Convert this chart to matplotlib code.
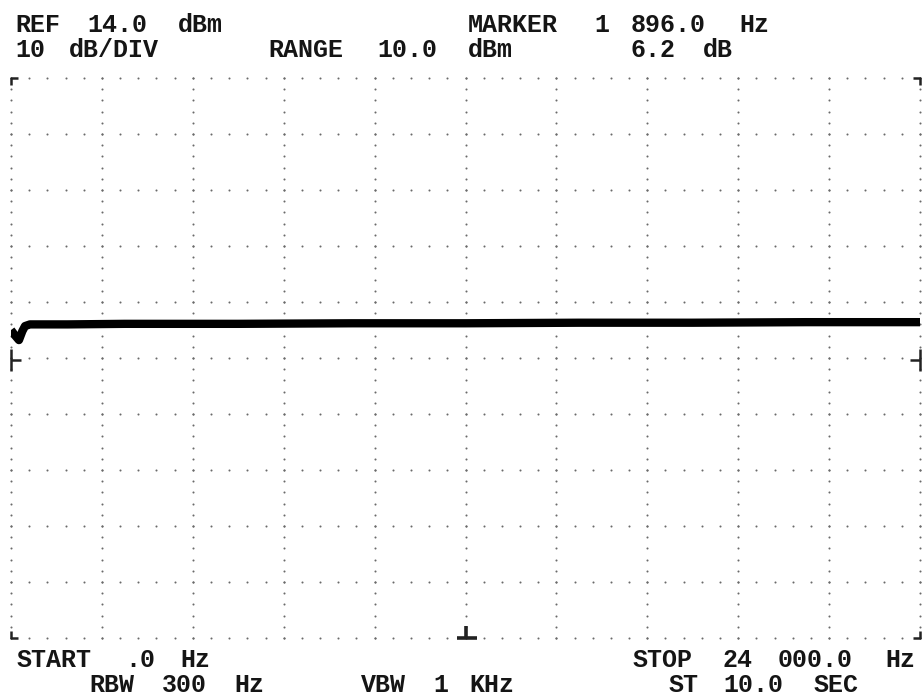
import re
import numpy as np
import matplotlib
matplotlib.use("Agg")
import matplotlib.pyplot as plt

# screen annotation rows (monospace layout of the analyzer display)
header_1 = "REF 14.0 dBm             MARKER 1 896.0 Hz"
header_2 = "10 dB/DIV     RANGE 10.0 dBm      6.2 dB"
footer_1 = "START .0 Hz                       STOP 24 000.0 Hz"
footer_2 = "    RBW 300 Hz     VBW 1 KHz        ST 10.0 SEC"

# display scale
ref_level = 14.0      # dBm at top graticule
db_per_div = 10
n_ydiv = 10
f_start = 0.0
f_stop = 24000.0
n_xdiv = 10

# trace (Hz, dBm)
freq = [0, 110, 210, 300, 370, 500, 1500, 3000, 6000, 9000, 12000, 15000, 18000, 21000, 24000]
level = [-31.0, -32.0, -32.8, -31.2, -30.3, -30.0, -30.0, -29.9, -29.9, -29.8, -29.8, -29.7, -29.7, -29.6, -29.6]

W, H = 922, 697
fig = plt.figure(figsize=(W / 100, H / 100), dpi=100)
fig.patch.set_facecolor("white")

left, right, top, bottom = 11, 920, 78, 638
ax = fig.add_axes([left / W, (H - bottom) / H, (right - left) / W, (bottom - top) / H])
y_bot = ref_level - n_ydiv * db_per_div
ax.set_xlim(f_start, f_stop)
ax.set_ylim(y_bot, ref_level)
ax.axis("off")

# dotted graticule: dots at 1/5 division along each major line
xdiv = (f_stop - f_start) / n_xdiv
x_major = f_start + xdiv * np.arange(n_xdiv + 1)
y_major = y_bot + db_per_div * np.arange(n_ydiv + 1)
x_minor = f_start + xdiv / 5 * np.arange(n_xdiv * 5 + 1)
y_minor = y_bot + db_per_div / 5 * np.arange(n_ydiv * 5 + 1)
dot_kw = dict(s=2.2, c="#6a6a6a", linewidths=0, clip_on=False, zorder=1)
for xv in x_major:
    ax.scatter(np.full_like(y_minor, xv), y_minor, **dot_kw)
for yv in y_major:
    ax.scatter(x_minor, np.full_like(x_minor, yv), **dot_kw)

# corner brackets and edge markers (axes fraction)
ex = 7 / (right - left)
ey = 7 / (bottom - top)
mk = dict(color="#222222", lw=1.8, transform=ax.transAxes, clip_on=False, solid_capstyle="butt")
ax.plot([0, 0, ex], [1 - ey, 1, 1], **mk)
ax.plot([1 - ex, 1, 1], [1, 1, 1 - ey], **mk)
ax.plot([0, 0, ex], [ey, 0, 0], **mk)
ax.plot([1 - ex, 1, 1], [0, 0, ey], **mk)
side = 1 - (360 - top) / (bottom - top)
span = 11 / (bottom - top)
ax.plot([0, 0], [side - span, side + span], **mk)
ax.plot([0, 10 / (right - left)], [side, side], **mk)
ax.plot([1, 1], [side - span, side + span], **mk)
ax.plot([1, 1 - 10 / (right - left)], [side, side], **mk)
mk2 = dict(mk, lw=2.6)
ax.plot([0.5, 0.5], [0, 12 / (bottom - top)], **mk2)
ax.plot([0.5 - 9 / (right - left), 0.5 + 11 / (right - left)], [0, 0], **mk2)

# trace
ax.plot(freq, level, color="black", lw=6, solid_capstyle="butt", solid_joinstyle="round", zorder=3)

# annotations: each word starts on an 18.1 px character grid
pitch = 18.1
txt = dict(family="Liberation Mono", fontsize=18, fontweight="bold", color="#151515",
           ha="left", va="baseline")


def put_row(row, x0, y_base):
    for m in re.finditer(r"\S+", row):
        fig.text((x0 + m.start() * pitch) / W, 1 - y_base / H, m.group(), **txt)


put_row(header_1, 15, 32)
put_row(header_2, 15, 57)
put_row(footer_1, 17, 667)
put_row(footer_2, 17, 692)

fig.savefig("out.png", dpi=100, facecolor="white")
